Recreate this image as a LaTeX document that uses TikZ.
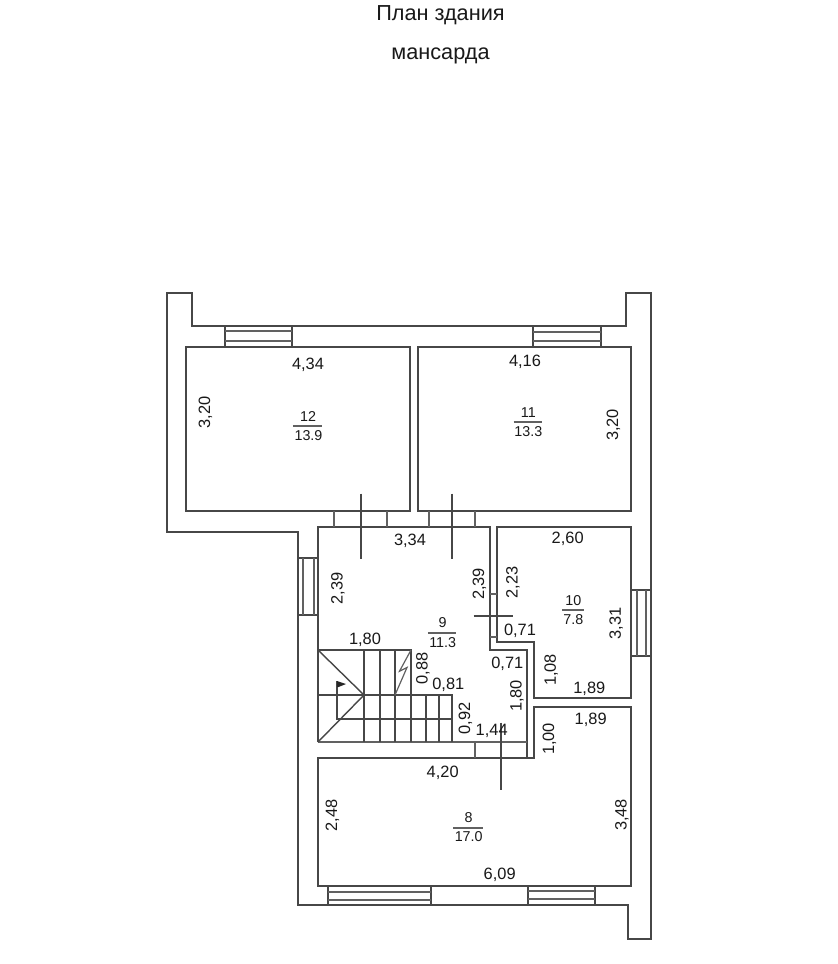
\documentclass[tikz,border=0pt]{standalone}
\usepackage{fontspec}
\setmainfont{Liberation Sans}
\begin{document}
\begin{tikzpicture}[x=1pt,y=-1pt,
  wall/.style={draw=black!72,line width=1.4pt,line join=miter,xshift=-0.5pt,yshift=0.5pt},
  thin wall/.style={draw=black!62,line width=1.2pt,xshift=-0.5pt,yshift=0.5pt},
  dim/.style={inner sep=0pt,text height=11.7pt,text depth=0pt,font=\fontsize{16.4}{16}\selectfont,text=black!90},
  vdim/.style={dim,rotate=90},
  num/.style={inner sep=0pt,text height=10.2pt,text depth=0pt,font=\fontsize{14.3}{14}\selectfont,text=black!90},
  titletext/.style={inner sep=0pt,text height=15pt,text depth=0pt,font=\fontsize{21.7}{22}\selectfont,text=black!90}]
\useasboundingbox[fill=white] (0,0) rectangle (838,964);
% titles
\node[titletext] (t1) at (440.5,13) {План здания};
\node[titletext] (t2) at (440.5,52) {мансарда};
% outer wall
\draw[wall] (167.5,293.5) -- (192.5,293.5) -- (192.5,326.5) -- (626.5,326.5) -- (626.5,293.5) -- (651.5,293.5) -- (651.5,939.5) -- (628.5,939.5) -- (628.5,905.5) -- (298.5,905.5) -- (298.5,532.5) -- (167.5,532.5) -- cycle;
% rooms
\draw[wall] (186.5,347.5) rectangle (410.5,511.5);
\draw[wall] (418.5,347.5) rectangle (631.5,511.5);
\draw[wall] (497.5,527.5) -- (631.5,527.5) -- (631.5,698.5) -- (534.5,698.5) -- (534.5,642.5) -- (497.5,642.5) -- cycle;
\draw[wall] (318.5,742.5) -- (318.5,527.5) -- (490.5,527.5) -- (490.5,650.5) -- (527.5,650.5) -- (527.5,758.5);
\draw[wall] (534.5,758.5) -- (534.5,707.5) -- (631.5,707.5) -- (631.5,886.5) -- (318.5,886.5) -- (318.5,758.5) -- cycle;
\draw[thin wall] (318.5,742.5) -- (527.5,742.5);
% door jambs
\draw[thin wall] (334.5,511.5) -- (334.5,527.5) (387.5,511.5) -- (387.5,527.5);
\draw[thin wall] (429.5,511.5) -- (429.5,527.5) (475.5,511.5) -- (475.5,527.5);
\draw[thin wall] (490.5,594.5) -- (497.5,594.5) (490.5,637.5) -- (497.5,637.5);
\draw[thin wall] (475.5,742.5) -- (475.5,758.5);
% door axes
\draw[wall] (361.5,494) -- (361.5,559.5);
\draw[wall] (452.5,494) -- (452.5,559.5);
\draw[wall] (474,616.5) -- (513,616.5);
\draw[wall] (501.5,723) -- (501.5,790.7);
% windows
\draw[wall] (225.5,326.5) -- (225.5,347.5) (292.5,326.5) -- (292.5,347.5);
\draw[thin wall] (225.5,331.5) -- (292.5,331.5) (225.5,341.5) -- (292.5,341.5);
\draw[wall] (533.5,326.5) -- (533.5,347.5) (601.5,326.5) -- (601.5,347.5);
\draw[thin wall] (533.5,332.5) -- (601.5,332.5) (533.5,341.5) -- (601.5,341.5);
\draw[wall] (328.5,886.5) -- (328.5,905.5) (431.5,886.5) -- (431.5,905.5);
\draw[thin wall] (328.5,892.5) -- (431.5,892.5) (328.5,900.5) -- (431.5,900.5);
\draw[wall] (528.5,886.5) -- (528.5,905.5) (595.5,886.5) -- (595.5,905.5);
\draw[thin wall] (528.5,891.5) -- (595.5,891.5) (528.5,899.5) -- (595.5,899.5);
\draw[wall] (298.5,558.5) -- (318.5,558.5) (298.5,615.5) -- (318.5,615.5);
\draw[thin wall] (303.5,558.5) -- (303.5,615.5) (314.5,558.5) -- (314.5,615.5);
\draw[wall] (631.5,590.5) -- (651.5,590.5) (631.5,656.5) -- (651.5,656.5);
\draw[thin wall] (637.5,590.5) -- (637.5,656.5) (646.5,590.5) -- (646.5,656.5);
% stairs
\draw[wall] (318.5,650.5) -- (411.5,650.5) -- (411.5,742.5);
\draw[wall] (318.5,695.5) -- (452.5,695.5) -- (452.5,742.5);
\draw[wall] (364.5,650.5) -- (364.5,742.5) (380.5,650.5) -- (380.5,742.5) (395.5,650.5) -- (395.5,742.5);
\draw[wall] (426.5,695.5) -- (426.5,742.5) (439.5,695.5) -- (439.5,742.5);
\draw[wall] (337.5,681.7) -- (337.5,719.5) -- (452.5,719.5);
\draw[wall] (318.5,650.5) -- (364.5,695.5) -- (318.5,742.5);
\draw[thin wall] (411.5,650.5) -- (400,671.7) -- (407.5,668) -- (395.5,695.5);
\fill[black!85] (337,681) -- (346,684) -- (338.5,687) -- (337,687) -- cycle;
% room numbers
\node[num] (r12) at (308,416) {12};
\node[num] (a12) at (308.5,435) {13.9};
\draw[thin wall] (293.3,426.5) -- (322.7,426.5);
\node[num] (r11) at (528.3,412.3) {11};
\node[num] (a11) at (528.3,431) {13.3};
\draw[thin wall] (514,422.5) -- (542.3,422.5);
\node[num] (r10) at (573.3,600) {10};
\node[num] (a10) at (573.3,619.3) {7.8};
\draw[thin wall] (562.7,610.5) -- (584,610.5);
\node[num] (r9) at (442.7,622.3) {9};
\node[num] (a9) at (442.7,642.3) {11.3};
\draw[thin wall] (428.3,633.5) -- (456.7,633.5);
\node[num] (r8) at (468.7,817.7) {8};
\node[num] (a8) at (468.7,836.7) {17.0};
\draw[thin wall] (453.7,828.5) -- (483,828.5);
% dimensions
\node[dim] (d434) at (308,364) {4,34};
\node[vdim] (d320a) at (204.3,412.7) {3,20};
\node[dim] (d416) at (525,360.7) {4,16};
\node[vdim] (d320b) at (612.3,425) {3,20};
\node[dim] (d334) at (410,540) {3,34};
\node[vdim] (d239a) at (336.7,588.3) {2,39};
\node[vdim] (d239b) at (478.3,584) {2,39};
\node[vdim] (d223) at (511.7,582.7) {2,23};
\node[dim] (d180) at (365,638.3) {1,80};
\node[vdim] (d088) at (421.7,668.3) {0,88};
\node[dim] (d081) at (448.3,683.3) {0,81};
\node[vdim] (d092) at (464.3,718.3) {0,92};
\node[dim] (d144) at (491.7,729.3) {1,44};
\node[dim] (d071a) at (520,629.3) {0,71};
\node[dim] (d071b) at (507.3,662.3) {0,71};
\node[vdim] (d180b) at (515.7,696) {1,80};
\node[dim] (d260) at (567.7,537.7) {2,60};
\node[vdim] (d331) at (615,623.3) {3,31};
\node[vdim] (d108) at (550,670) {1,08};
\node[dim] (d189a) at (589.3,687.7) {1,89};
\node[dim] (d189b) at (590.7,719) {1,89};
\node[vdim] (d100) at (548.3,739) {1,00};
\node[dim] (d420) at (442.7,772) {4,20};
\node[vdim] (d248) at (331.3,815.7) {2,48};
\node[vdim] (d348) at (620.7,815) {3,48};
\node[dim] (d609) at (499.7,874) {6,09};
\end{tikzpicture}
\end{document}
